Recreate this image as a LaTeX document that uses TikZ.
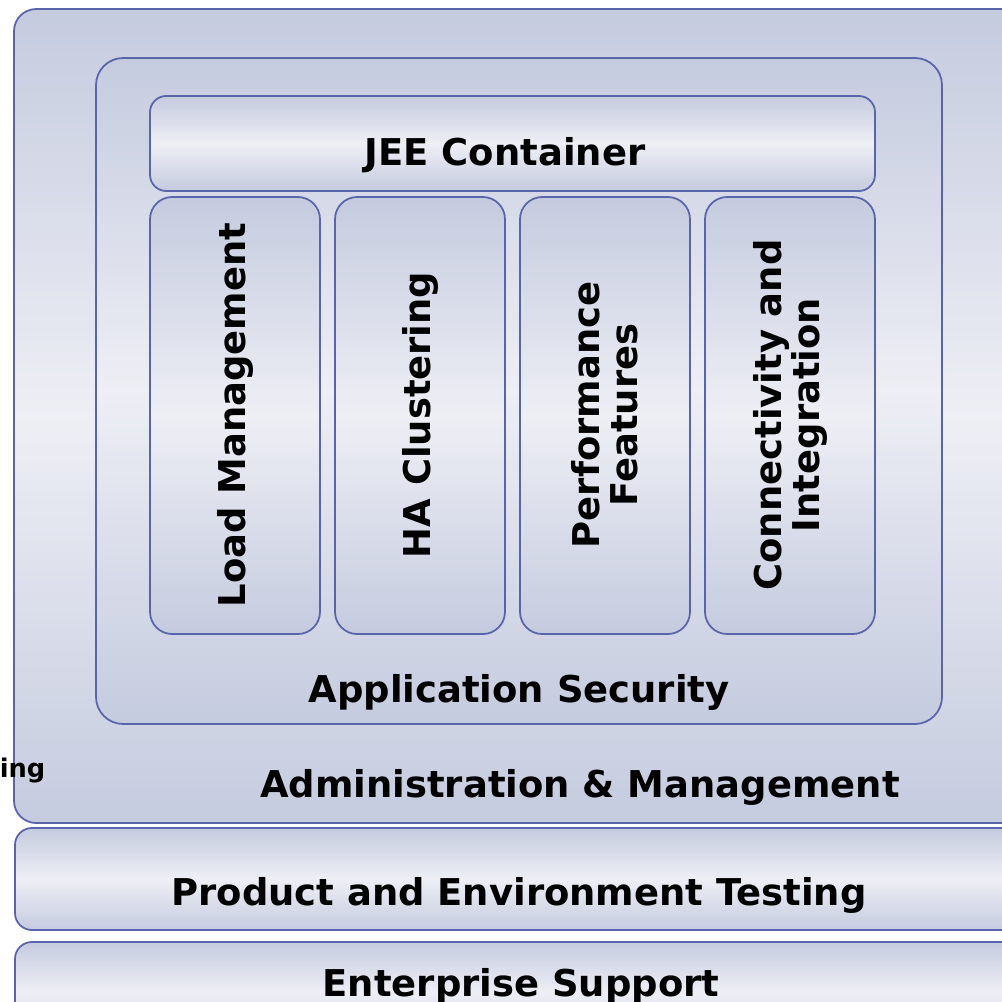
\documentclass[tikz,border=0pt]{standalone}
\usepackage{fontspec}
\setmainfont{DejaVu Sans}
\definecolor{edge}{RGB}{90,100,170}
\definecolor{shadedark}{RGB}{197,203,223}
\definecolor{shadelight}{RGB}{238,239,245}
\tikzset{
  panel/.style={draw=edge, line width=.5pt, top color=shadedark,
    bottom color=shadedark, middle color=shadelight},
  boxtext/.style={font=\bfseries\fontsize{10.5}{10.8}\selectfont,
    align=center, inner sep=0pt},
}
\begin{document}
\begin{tikzpicture}[x=.01cm,y=-.01cm]
        \useasboundingbox (0,0) rectangle (1002,1002);
        \clip (0,0) rectangle (1002,1002);
        % outer frame and the two bars under it
        \draw[panel,rounded corners=6.3pt] (14,9) rectangle (1080,823);
        \draw[panel,rounded corners=4.8pt] (15,828) rectangle (1080,930);
        \draw[panel,rounded corners=4.8pt] (15,942) rectangle (1080,1044);
        \draw[panel,rounded corners=7.7pt] (96,58) rectangle (942,724);
        \draw[panel,rounded corners=4.6pt] (150,96) rectangle (875,191);
        \foreach \x in {150,335,520,705}{
          \draw[panel,rounded corners=6.3pt] (\x,197) rectangle ++(170,437);
        }
        \node[boxtext] (jee) at (505,155) {JEE Container};
        \foreach \x/\t/\n in {235/{Load Management}/load, 420/{HA Clustering}/ha,
            605/{Performance\\Features}/perf, 790/{Connectivity and\\Integration}/conn}{
          \node[boxtext,rotate=90] (\n) at (\x,415) {\t};
        }
        \node[boxtext] (security) at (519,692) {Application Security};
        \node[boxtext] (admin) at (580,787) {Administration \& Management};
        \node[boxtext] (testing) at (519,895) {Product and Environment Testing};
        \node[boxtext] (support) at (521,986) {Enterprise Support};
        \node[boxtext,font=\bfseries\fontsize{7.3}{8}\selectfont,anchor=east] (side) at (46,771) {ing};
      \end{tikzpicture}
\end{document}
